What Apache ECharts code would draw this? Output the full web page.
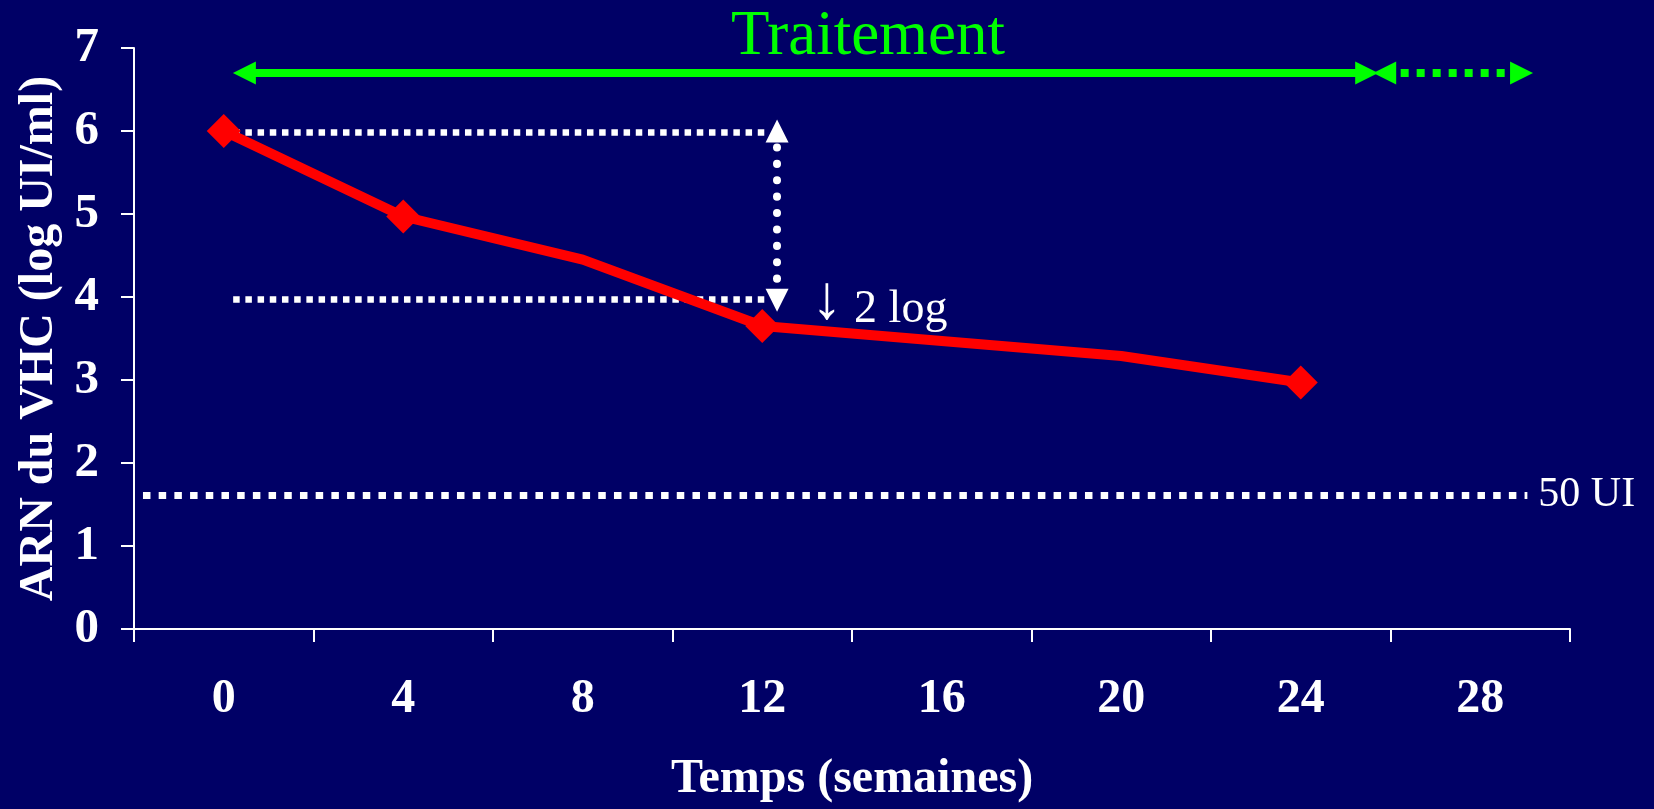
<!DOCTYPE html>
<html>
<head>
<meta charset="utf-8">
<script src="https://cdn.jsdelivr.net/npm/echarts@6/dist/echarts.min.js"></script>
<style>
  html, body { margin: 0; padding: 0; background: #000066; }
  #chart { width: 1654px; height: 809px; }
</style>
</head>
<body>
<div id="chart"></div>
<script>
// Week labels on the horizontal axis
const weekLabels = ['0', '4', '8', '12', '16', '20', '24', '28'];

// HCV RNA (log UI/ml) measured over time
const weeks = [0, 4, 8, 12, 20, 24];
const arnLog = [6.0, 4.97, 4.45, 3.65, 3.29, 2.97];
const withMarker = [true, true, false, true, false, true];

// Detection threshold (50 UI)
const thresholdLog = 1.61;
const thresholdSpan = [-1.8, 29.05];

// Treatment period arrows (weeks) drawn at this level
const treatmentLevel = 6.70;
const treatmentSpan = [0.46, 25.47];
const followUpSpan = [25.87, 28.92];

// Two-log drop bracket
const guideLevels = [5.98, 3.97];
const guideSpan = [0.21, 12.08];
const dropWeek = 12.33;
const dropRange = [6.0, 3.96];
const dropLabelAt = [13.1, 3.94];

const serif = 'Liberation Serif';
const white = '#ffffff';
const green = '#00ff00';

const chart = echarts.init(document.getElementById('chart'), null, { renderer: 'canvas' });

const curveData = weeks.map((w, i) => ({
  value: [w, arnLog[i]],
  symbol: withMarker[i] ? 'diamond' : 'none'
}));

function hLine(y, span) {
  return [{ coord: [span[0], y] }, { coord: [span[1], y] }];
}

chart.setOption({
  backgroundColor: '#000066',
  animation: false,
  title: {
    text: 'Traitement',
    left: 868,
    top: 6,
    padding: 0,
    textAlign: 'center',
    textStyle: { color: green, fontFamily: serif, fontWeight: 'normal', fontSize: 63 }
  },
  grid: { left: 134, top: 48, width: 1436, height: 583, containLabel: false },
  xAxis: [
    {
      type: 'category',
      data: weekLabels,
      boundaryGap: true,
      name: 'Temps (semaines)',
      nameLocation: 'middle',
      nameGap: 127,
      nameTextStyle: { color: white, fontFamily: serif, fontWeight: 'bold', fontSize: 48 },
      axisLine: { show: true, onZero: false, lineStyle: { color: white, width: 2 } },
      axisTick: { show: true, length: 13, alignWithLabel: false, interval: 0, lineStyle: { color: white, width: 2 } },
      axisLabel: { color: white, fontFamily: serif, fontWeight: 'bold', fontSize: 48, margin: 47, interval: 0 },
      splitLine: { show: false }
    },
    {
      type: 'value',
      min: -2,
      max: 30,
      show: false
    }
  ],
  yAxis: {
    type: 'value',
    min: 0,
    max: 7,
    interval: 1,
    name: 'ARN du VHC (log UI/ml)',
    nameLocation: 'middle',
    nameGap: 70,
    nameTextStyle: { color: white, fontFamily: serif, fontWeight: 'bold', fontSize: 48 },
    axisLine: { show: true, onZero: false, lineStyle: { color: white, width: 2 } },
    axisTick: { show: true, length: 13, lineStyle: { color: white, width: 2 } },
    axisLabel: { color: white, fontFamily: serif, fontWeight: 'bold', fontSize: 49, margin: 35, padding: [8, 0, 0, 0] },
    splitLine: { show: false }
  },
  series: [
    {
      // detection threshold
      name: '50 UI',
      type: 'line',
      xAxisIndex: 1,
      data: [],
      markLine: {
        silent: true,
        symbol: ['none', 'none'],
        lineStyle: { color: white, width: 7, type: [7.5, 8.2], cap: 'butt' },
        label: {
          show: true, position: 'end', distance: 11, formatter: '50 UI',
          color: white, fontFamily: serif, fontSize: 42
        },
        data: [hLine(thresholdLog, thresholdSpan)]
      }
    },
    {
      // two-log drop guides
      name: 'guides',
      type: 'line',
      xAxisIndex: 1,
      data: [],
      markLine: {
        silent: true,
        symbol: ['none', 'none'],
        label: { show: false },
        lineStyle: { color: white, width: 6.5, type: [6.5, 5.7] },
        data: guideLevels.map(y => hLine(y, guideSpan))
      }
    },
    {
      // two-log drop bracket arrow
      name: 'drop',
      type: 'line',
      xAxisIndex: 1,
      data: [],
      markLine: {
        silent: true,
        symbol: ['triangle', 'triangle'],
        symbolSize: [23, 23],
        label: { show: false },
        lineStyle: { color: white, width: 8, type: [0.1, 16.3], cap: 'round' },
        data: [[{ coord: [dropWeek, dropRange[0]] }, { coord: [dropWeek, dropRange[1]] }]]
      },
      markPoint: {
        silent: true,
        symbol: 'circle',
        symbolSize: 0,
        label: {
          show: true, position: 'right', distance: 0,
          formatter: '{a|\u2193}{b| 2 log}',
          color: white, fontFamily: serif,
          rich: {
            a: { color: white, fontFamily: serif, fontSize: 62, verticalAlign: 'bottom' },
            b: { color: white, fontFamily: serif, fontSize: 46, verticalAlign: 'bottom' }
          }
        },
        data: [{ coord: dropLabelAt }]
      }
    },
    {
      // treatment period
      name: 'Traitement',
      type: 'line',
      xAxisIndex: 1,
      data: [],
      markLine: {
        silent: true,
        symbol: ['triangle', 'triangle'],
        symbolSize: [23, 23],
        label: { show: false },
        data: [
          hLine(treatmentLevel, treatmentSpan).map((p, i) => i === 0
            ? Object.assign(p, { lineStyle: { color: green, width: 8, type: 'solid' }, itemStyle: { color: green } })
            : p),
          hLine(treatmentLevel, followUpSpan).map((p, i) => i === 0
            ? Object.assign(p, { lineStyle: { color: green, width: 8, type: [8, 8] }, itemStyle: { color: green } })
            : p)
        ]
      }
    },
    {
      // viral load curve
      name: 'ARN du VHC',
      type: 'line',
      xAxisIndex: 1,
      data: curveData,
      symbolSize: 34,
      showAllSymbol: true,
      lineStyle: { color: '#ff0000', width: 10 },
      itemStyle: { color: '#ff0000' },
      z: 5
    }
  ]
});
</script>
</body>
</html>
